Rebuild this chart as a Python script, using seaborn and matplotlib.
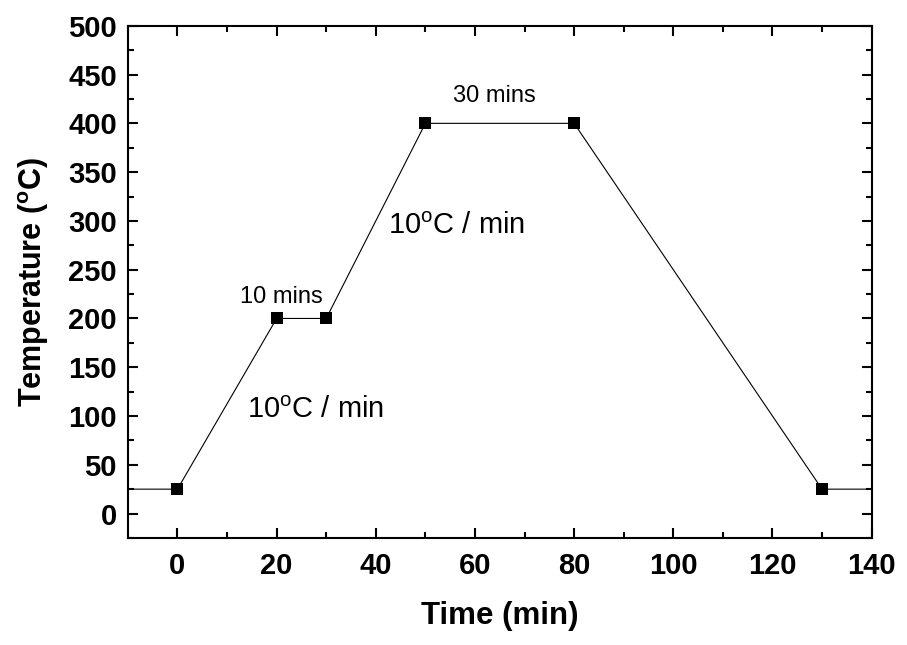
"""Annealing temperature profile: ramp, hold, ramp, hold, cool down."""

import matplotlib
matplotlib.use("Agg")
import matplotlib.pyplot as plt
from matplotlib.ticker import MultipleLocator
import pandas as pd
import seaborn as sns

# Profile data (time in minutes, temperature in degrees C)
time_min = [-10, 0, 20, 30, 50, 80, 130, 140]
temp_c = [25, 25, 200, 200, 400, 400, 25, 25]
# only the measured set points carry a marker
marker_time = time_min[1:-1]
marker_temp = temp_c[1:-1]

x_ticks = [0, 20, 40, 60, 80, 100, 120, 140]
y_ticks = [0, 50, 100, 150, 200, 250, 300, 350, 400, 450, 500]

sns.set_theme(style="ticks")
plt.rcParams["font.family"] = ["Liberation Sans", "DejaVu Sans"]
plt.rcParams["mathtext.fontset"] = "custom"
plt.rcParams["mathtext.rm"] = "Liberation Sans"
plt.rcParams["text.color"] = "black"
plt.rcParams["axes.labelcolor"] = "black"
plt.rcParams["xtick.color"] = "black"
plt.rcParams["ytick.color"] = "black"

fig = plt.figure(figsize=(9.07, 6.45), dpi=100)
ax = fig.add_axes([0.141, 0.166, 0.820, 0.794])

profile = pd.DataFrame({"time": time_min, "temp": temp_c})
sns.lineplot(data=profile, x="time", y="temp", ax=ax, color="black",
             linewidth=0.8, sort=False)
sns.scatterplot(x=marker_time, y=marker_temp, ax=ax, color="black",
                marker="s", s=70, edgecolor="black", linewidth=0, zorder=3)

ax.set_xlim(-10, 140)
ax.set_ylim(-25, 500)
ax.set_xticks(x_ticks)
ax.set_yticks(y_ticks)
ax.xaxis.set_minor_locator(MultipleLocator(10))
ax.yaxis.set_minor_locator(MultipleLocator(25))

for side in ax.spines.values():
    side.set_linewidth(1.5)
    side.set_color("black")
ax.tick_params(which="both", direction="in", top=True, right=True,
               width=1.5, color="black")
ax.tick_params(which="major", length=7)
ax.tick_params(which="minor", length=4.5)
ax.tick_params(axis="x", which="major", pad=10)
ax.tick_params(axis="y", which="major", pad=8)
for lab in ax.get_xticklabels() + ax.get_yticklabels():
    lab.set_fontsize(21)
    lab.set_fontweight("bold")

ax.set_xlabel("Time (min)", fontsize=22.5, fontweight="bold", labelpad=15)
ax.set_ylabel(r"Temperature ($^\mathregular{o}$C)", fontsize=22,
              fontweight="bold", labelpad=12)

# annotations
ax.text(21, 222, "10 mins", fontsize=17, ha="center", va="center")
ax.text(64, 428, "30 mins", fontsize=17, ha="center", va="center")
ax.text(14, 106, r"10$^\mathregular{o}$C / min", fontsize=21, ha="left", va="center")
ax.text(42.5, 295, r"10$^\mathregular{o}$C / min", fontsize=21, ha="left", va="center")

fig.savefig("out.png", dpi=100)
